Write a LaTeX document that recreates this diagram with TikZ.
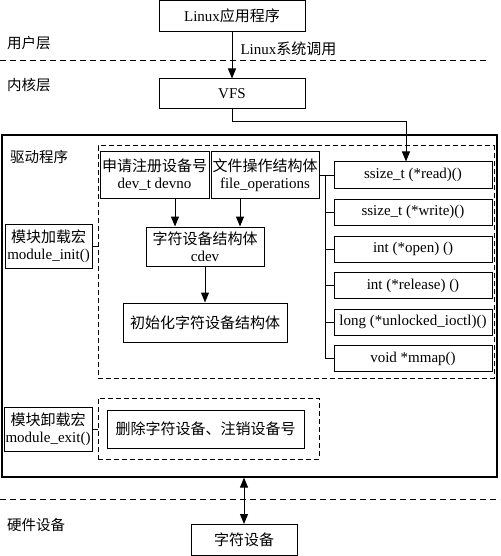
\documentclass[tikz,border=0pt]{standalone}
\usepackage{fontspec}
\setmainfont{Liberation Serif}
\newfontfamily\cjk{Noto Sans CJK SC}
\usetikzlibrary{arrows.meta,calc}
\begin{document}
\begin{tikzpicture}[x=1pt,y=-1pt,
  font=\fontsize{15}{17}\selectfont,
  box/.style={draw, line width=1pt, inner sep=0pt, align=center},
  dbox/.style={draw, line width=1pt, dash pattern=on 5pt off 3pt, inner sep=0pt},
  arr/.style={-{Triangle[length=10pt,width=8pt]}, line width=1pt},
  darr/.style={{Triangle[length=10pt,width=8pt]}-{Triangle[length=10pt,width=8pt]}, line width=1pt},
  ln/.style={line width=1pt},
  dline/.style={line width=1pt, dash pattern=on 6pt off 4pt},
  lay/.style={anchor=west, inner sep=0pt, font=\fontsize{14.5}{17}\selectfont\cjk},
  fn/.style={box, minimum width=158pt, minimum height=26pt}]
\useasboundingbox (0,0) rectangle (500,556);
\fill[white] (0,0) rectangle (500,556);

% layer labels
\node[lay] (lu) at (7,43) {用户层};
\node[lay] (lk) at (7,85) {内核层};
\node[lay] (ld) at (10,157) {驱动程序};
\node[lay] (lh) at (7,525) {硬件设备};

% dashed separators
\coordinate (s1a) at (0,61);
\coordinate (s1b) at (488,61);
\coordinate (s2a) at (0,499);
\coordinate (s2b) at (500,499);
\draw[dline] (s1a) -- (s1b);
\draw[dline] (s2a) -- (s2b);

% top boxes
\node[box, minimum width=146pt, minimum height=31pt] (app) at (232,16) {Linux{\cjk 应用程序}};
\node[box, minimum width=146pt, minimum height=30pt] (vfs) at (232,94) {VFS};

% outer driver box and inner dashed boxes
\node[draw, line width=1.2pt, inner sep=0pt, minimum width=495pt, minimum height=342pt] (outer) at (249.5,306) {};
\node[dbox, minimum width=396pt, minimum height=232pt] (inner) at (296,262) {};
\node[dbox, minimum width=221pt, minimum height=61pt] (inner2) at (208.5,428.5) {};

% inner nodes
\node[box, minimum width=109pt, minimum height=46pt] (devno) at (154.5,175) {{\cjk 申请注册设备号}\\dev\_t devno};
\node[box, minimum width=108pt, minimum height=46pt] (fops) at (265,175) {{\cjk 文件操作结构体}\\file\_operations};
\node[box, minimum width=118pt, minimum height=39pt] (cdevn) at (205,246.5) {{\cjk 字符设备结构体}\\cdev};
\node[box, minimum width=164pt, minimum height=39pt] (initb) at (205,322.5) {\cjk 初始化字符设备结构体};
\node[box, minimum width=87pt, minimum height=44pt] (loadm) at (48.5,246) {{\cjk 模块加载宏}\\module\_init()};
\node[box, minimum width=88pt, minimum height=44pt] (unld) at (48,429) {{\cjk 模块卸载宏}\\module\_exit()};
\node[box, minimum width=197pt, minimum height=38pt] (delb) at (205.5,429) {\cjk 删除字符设备、注销设备号};

% file operation members
\node[fn] (rd) at (413,175) {ssize\_t (*read)()};
\node[fn] (wr) at (413,212) {ssize\_t (*write)()};
\node[fn] (op) at (413,249) {int (*open) ()};
\node[fn] (rl) at (413,285.5) {int (*release) ()};
\node[fn] (io) at (413,322) {long (*unlocked\_ioctl)()};
\node[fn] (mm) at (413,358.5) {void *mmap()};

% hardware device
\node[box, minimum width=106pt, minimum height=31pt] (chd) at (244,540) {\cjk 字符设备};

% connectors
\draw[arr] (app) -- (vfs) node[pos=0.5, anchor=west, inner sep=0pt, xshift=8pt, yshift=6pt] (syscall) {Linux{\cjk 系统调用}};
\coordinate (bend) at (406,122);
\draw[arr] (vfs.south) |- (bend) -- (bend |- rd.north);

\coordinate (xa) at (175,0);
\coordinate (xb) at (240,0);
\draw[arr] (devno.south -| xa) -- (cdevn.north -| xa);
\draw[arr] (fops.south -| xb) -- (cdevn.north -| xb);
\draw[arr] (cdevn) -- (initb);

\draw[ln] (loadm.east) -- (loadm.east -| inner.west);
\draw[ln] (unld.east) -- (unld.east -| inner2.west);

\coordinate (trunk) at (325,175);
\draw[ln] (fops.east) -- (trunk) -- (trunk |- mm.west);
\foreach \n in {rd,wr,op,rl,io,mm}{
  \draw[ln] (trunk |- \n.west) -- (\n.west);
}

\draw[darr] (outer.south -| chd.north) -- (chd.north);
\end{tikzpicture}
\end{document}
